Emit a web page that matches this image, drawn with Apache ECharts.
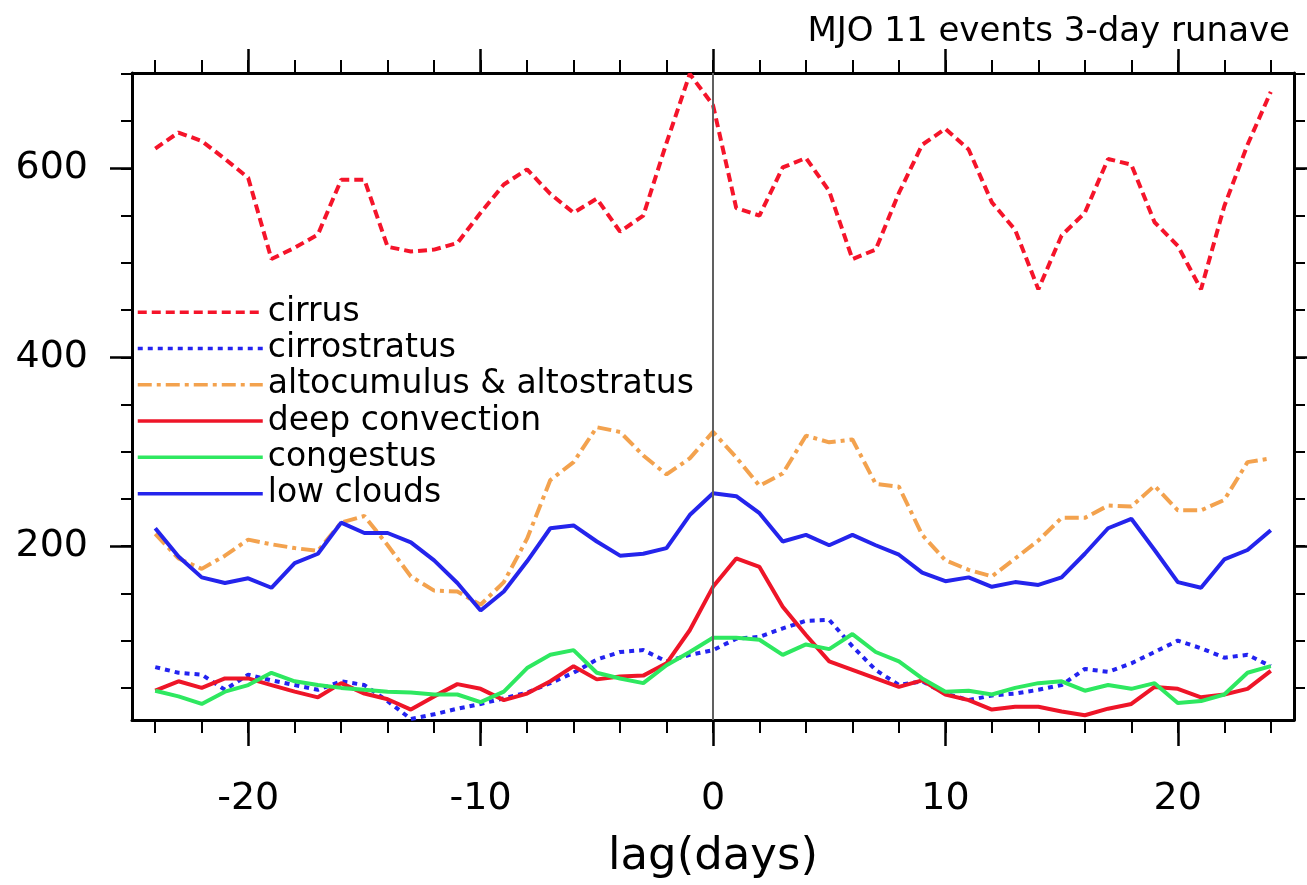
<!DOCTYPE html>
<html>
<head>
<meta charset="utf-8">
<script src="https://cdn.jsdelivr.net/npm/echarts@6/dist/echarts.min.js"></script>
<style>
html,body{margin:0;padding:0;background:#fff;}
#chart{width:1307px;height:885px;}
</style>
</head>
<body>
<div id="chart"></div>
<script>
const lags = [-24,-23,-22,-21,-20,-19,-18,-17,-16,-15,-14,-13,-12,-11,-10,-9,-8,-7,-6,-5,-4,-3,-2,-1,0,1,2,3,4,5,6,7,8,9,10,11,12,13,14,15,16,17,18,19,20,21,22,23,24];
const cirrus = [621,638,629,610,590,504,516,530,588,588,517,512,514,521,553,583,599,573,553,568,533,550,627,700,667,558,550,601,611,576,504,514,574,625,642,620,564,535,472,529,553,610,604,543,518,472,560,625,681];
const cirrostratus = [72,66,64,48,64,58,53,48,57,53,36,17,22,28,33,39,45,55,66,80,88,90,78,85,90,102,104,113,121,122,94,69,53,57,44,37,42,44,48,53,70,67,76,88,100,92,82,85,73];
const altocumulus = [213,187,176,190,207,202,198,195,225,232,201,168,153,152,138,162,208,270,289,326,321,296,276,293,321,294,264,277,317,310,313,266,263,212,185,175,168,187,206,230,230,243,242,264,238,238,249,289,293];
const deepConvection = [47,57,50,60,60,53,46,40,55,44,38,27,41,54,49,37,44,57,73,59,62,63,76,111,157,187,178,136,106,78,69,60,51,58,43,37,27,30,30,25,21,28,33,51,49,40,43,49,68];
const congestus = [47,41,33,46,53,66,57,53,50,48,46,45,43,43,35,46,71,85,90,66,60,55,74,88,103,103,101,85,96,91,107,88,78,60,46,47,43,50,55,57,47,53,49,55,34,36,43,66,73];
const lowClouds = [219,189,167,161,166,156,182,192,225,214,214,204,185,161,132,152,184,219,222,205,190,192,198,233,256,253,235,205,212,201,212,201,191,172,163,167,157,162,159,167,192,219,229,196,162,156,186,196,217];

const seriesNames = ['cirrus','cirrostratus','altocumulus & altostratus','deep convection','congestus','low clouds'];
const xMajor = [-20,-10,0,10,20];
const xMinor = [-24,-22,-20,-18,-16,-14,-12,-10,-8,-6,-4,-2,0,2,4,6,8,10,12,14,16,18,20,22,24];
const yMajor = [200,400,600];
const yMinor = [50,100,150,200,250,300,350,400,450,500,550,600,650,700];
const titleText = 'MJO 11 events 3-day runave';
const xName = 'lag(days)';

const FONT = 'DejaVu Sans';
const pair = arr => lags.map((l,i)=>[l, arr[i]]);

function xAx(pos, ticks, len, major){
  return {
    type:'value', position:pos, min:-25, max:25,
    axisLine:{show:major, onZero:false, lineStyle:{color:'#000', width:3}},
    axisTick:{show:true, inside:false, length:len, customValues:ticks, lineStyle:{color:'#000', width: major?2.5:2}},
    axisLabel:{show: major && pos==='bottom', customValues:xMajor, fontFamily:FONT, fontSize:38, color:'#000', margin:60},
    splitLine:{show:false},
    name: (major && pos==='bottom') ? xName : '',
    nameLocation:'middle', nameGap:115,
    nameTextStyle:{fontFamily:FONT, fontSize:45, color:'#000'}
  };
}
function yAx(pos, ticks, len, major){
  return {
    type:'value', position:pos, min:16, max:701,
    axisLine:{show:major, onZero:false, lineStyle:{color:'#000', width:3}},
    axisTick:{show:true, inside:false, length:len, customValues:ticks, lineStyle:{color:'#000', width: major?2.5:2}},
    axisLabel:{show: major && pos==='left', customValues:yMajor, fontFamily:FONT, fontSize:38, color:'#000', margin:44},
    splitLine:{show:false}
  };
}

function ser(name, data, color, type, extra){
  return Object.assign({
    name:name, type:'line', data:pair(data), xAxisIndex:0, yAxisIndex:0,
    symbol:'none', animation:false,
    lineStyle:{color:color, width:4, type:type},
    itemStyle:{color:color}
  }, extra||{});
}

const chart = echarts.init(document.getElementById('chart'), null, {renderer:'canvas'});
chart.setOption({
  backgroundColor:'#fff',
  animation:false,
  title:{text:titleText, right:12, top:10, textStyle:{fontFamily:FONT, fontSize:34, fontWeight:'normal', color:'#000'}},
  grid:{left:132, top:73, right:13, bottom:163, containLabel:false},
  legend:{
    orient:'vertical', left:136, top:294, padding:0, itemGap:0,
    itemWidth:125, itemHeight:14,
    itemStyle:{opacity:0},
    lineStyle:{width:3.5},
    textStyle:{fontFamily:FONT, fontSize:33, color:'#000', lineHeight:36.3},
    data:seriesNames
  },
  xAxis:[
    xAx('bottom', xMajor, 26, true),
    xAx('bottom', xMinor, 13, false),
    xAx('top', xMajor, 24, true),
    xAx('top', xMinor, 13, false)
  ],
  yAxis:[
    yAx('left', yMajor, 22, true),
    yAx('left', yMinor, 11, false),
    yAx('right', yMajor, 22, true),
    yAx('right', yMinor, 11, false)
  ],
  series:[
    ser(seriesNames[0], cirrus, '#f5142a', [9,5], {
      markLine:{silent:true, symbol:'none', label:{show:false}, animation:false,
        lineStyle:{color:'#606060', width:2, type:'solid'}, data:[{xAxis:0}]}
    }),
    ser(seriesNames[1], cirrostratus, '#2323f0', [5,5]),
    ser(seriesNames[2], altocumulus, '#f3a24e', [14,5,4,5]),
    ser(seriesNames[3], deepConvection, '#ee1528', 'solid'),
    ser(seriesNames[4], congestus, '#2ee860', 'solid'),
    ser(seriesNames[5], lowClouds, '#2424ec', 'solid')
  ]
});
</script>
</body>
</html>
